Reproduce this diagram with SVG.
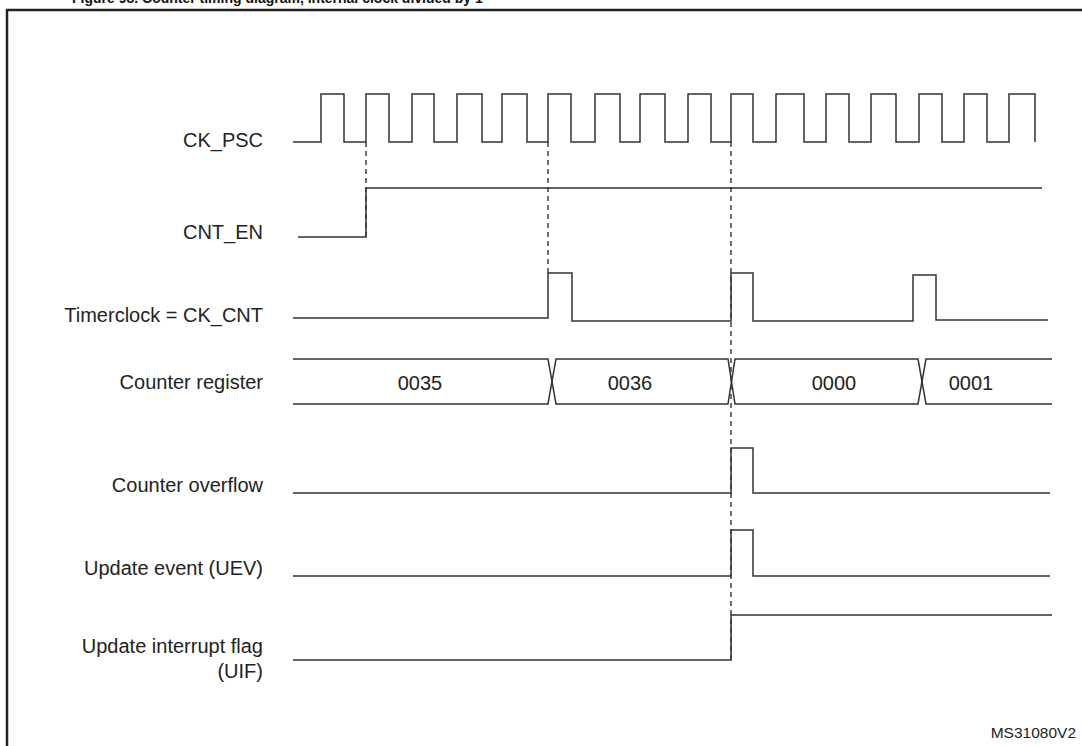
<svg xmlns="http://www.w3.org/2000/svg" width="1082" height="746" viewBox="0 0 1082 746">
<style>
.w{fill:none;stroke:#333;stroke-width:1.5}
.d{fill:none;stroke:#222;stroke-width:1.3;stroke-dasharray:5,4}
.l{font-family:"Liberation Sans",Arial,sans-serif;font-size:20px;fill:#222;text-anchor:end}
.v{font-family:"Liberation Sans",Arial,sans-serif;font-size:20px;fill:#222;text-anchor:middle}
</style>
<rect width="1082" height="746" fill="#fff"/>
<text x="72" y="3" font-family="Liberation Sans,Arial,sans-serif" font-weight="bold" font-size="14" fill="#111">Figure 98. Counter timing diagram, internal clock divided by 1</text>
<path d="M7,746 V10 H1082" fill="none" stroke="#222" stroke-width="2.5"/>
<g id="labels">
<text class="l" x="263" y="147">CK_PSC</text>
<text class="l" x="263" y="239">CNT_EN</text>
<text class="l" x="263" y="322">Timerclock = CK_CNT</text>
<text class="l" x="263" y="389">Counter register</text>
<text class="l" x="263" y="492">Counter overflow</text>
<text class="l" x="263" y="575">Update event (UEV)</text>
<text class="l" x="263" y="653">Update interrupt flag</text>
<text class="l" x="263" y="678">(UIF)</text>
</g>
<g id="connectors">
<path class="d" d="M366,142 V237"/>
<path class="d" d="M548,142 V273"/>
<path class="d" d="M731,142 V660"/>
</g>
<g id="ck_psc"><path class="w" d="M293,142 H321 V94 H344 V142 H366 V94 H389 V142 H412 V94 H434 V142 H457 V94 H482 V142 H502 V94 H527 V142 H548 V94 H571 V142 H595 V94 H620 V142 H640 V94 H665 V142 H688 V94 H711 V142 H731 V94 H753 V142 H776 V94 H804 V142 H826 V94 H849 V142 H871 V94 H896 V142 H919 V94 H942 V142 H964 V94 H987 V142 H1009 V94 H1035 V142"/></g>
<g id="cnt_en"><path class="w" d="M298,237 H366 V188 H1042"/></g>
<g id="timerclock"><path class="w" d="M293,318 H548 V273 H572 V321 H731 V273 H753 V321 H913 V275 H936 V320 H1048"/></g>
<g id="counter">
<path class="w" d="M293,359 H548 L556,404 H728 L735,359 H918 L926,404 H1052"/>
<path class="w" d="M293,404 H548 L556,359 H728 L735,404 H918 L926,359 H1052"/>
<text class="v" x="420" y="390">0035</text>
<text class="v" x="630" y="390">0036</text>
<text class="v" x="834" y="390">0000</text>
<text class="v" x="971" y="390">0001</text>
</g>
<g id="overflow"><path class="w" d="M293,493 H731 V448 H753 V493 H1050"/></g>
<g id="uev"><path class="w" d="M293,576 H731 V530 H753 V576 H1050"/></g>
<g id="uif"><path class="w" d="M293,660 H731 V615 H1052"/></g>
<text x="1076" y="738" font-family="Liberation Sans,Arial,sans-serif" font-size="15.5" fill="#222" text-anchor="end">MS31080V2</text>
</svg>
